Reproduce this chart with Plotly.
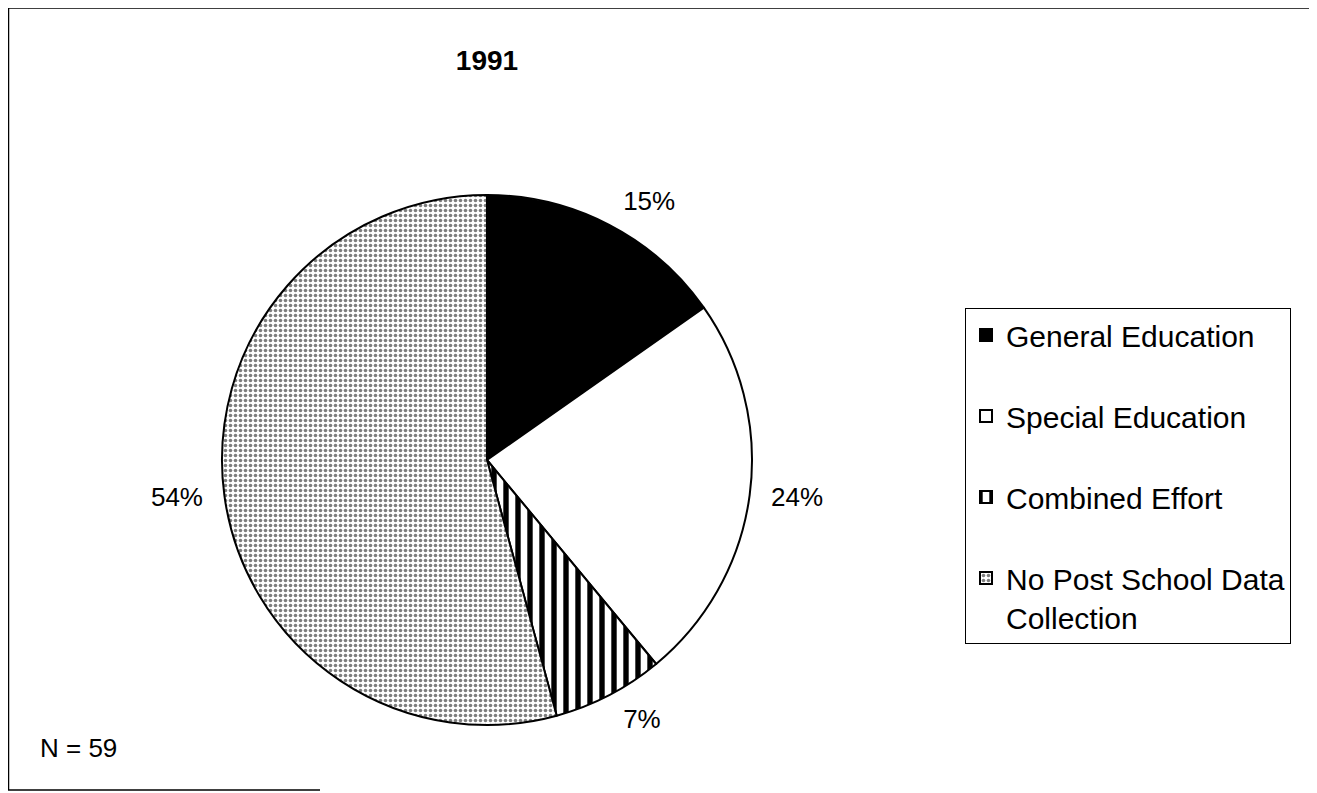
import plotly.graph_objects as go

# Data
categories = ["General Education", "Special Education", "Combined Effort",
              "No Post School Data Collection"]
legend_labels = ["General Education<br> ", "Special Education<br> ",
                 "Combined Effort<br> ", "No Post School Data<br>Collection"]
counts = [9, 14, 4, 32]  # N = 59
title_text = "1991"
n_text = "N = 59"

W, H = 1317, 793
OFF = 8  # page body margin offset
FONT = "Liberation Sans, Arial, sans-serif"


def px(x):
    return (x - OFF) / W


def py(y):
    return 1 - (y - OFF) / H


CX, CY, R = 487, 460, 265      # pie geometry in screen pixels
RL = 279                       # radius used for label placement

slice_colors = ["black", "white", "white", "white"]
pattern = dict(
    shape=["", "", "|", "."],
    fgcolor=["black", "black", "black", "#7d7d7d"],
    bgcolor=["black", "white", "white", "white"],
    size=[8, 8, 12, 5],
    solidity=[0.3, 0.3, 0.45, 0.4],
    fillmode="replace",
)

fig = go.Figure()
# main pie (slices + legend)
fig.add_trace(go.Pie(
    labels=legend_labels,
    values=counts,
    customdata=categories,
    sort=False,
    direction="clockwise",
    rotation=0,
    textinfo="none",
    hovertemplate="%{customdata}: %{value}<extra></extra>",
    marker=dict(colors=slice_colors, line=dict(color="black", width=2),
                pattern=pattern),
    domain=dict(x=[px(CX - R), px(CX + R)], y=[py(CY + R), py(CY - R)]),
))
# transparent companion pie used only to place the percentage labels
fig.add_trace(go.Pie(
    labels=legend_labels,
    values=counts,
    sort=False,
    direction="clockwise",
    rotation=0,
    showlegend=False,
    hoverinfo="skip",
    textposition="outside",
    texttemplate="%{percent:.0%}",
    textfont=dict(family=FONT, size=26, color="black"),
    marker=dict(colors=["rgba(0,0,0,0)"] * 4,
                line=dict(color="rgba(0,0,0,0)", width=0)),
    domain=dict(x=[px(CX - RL), px(CX + RL)], y=[py(CY + RL), py(CY - RL)]),
))

fig.update_layout(
    width=W, height=H,
    margin=dict(l=0, r=0, t=0, b=0),
    paper_bgcolor="white",
    plot_bgcolor="white",
    font=dict(family=FONT, color="black"),
    title=dict(text="<b>" + title_text + "</b>", x=px(487), xanchor="center",
               y=py(60), yanchor="middle",
               font=dict(family=FONT, size=28, color="black")),
    showlegend=True,
    legend=dict(
        x=px(965), xanchor="left",
        y=py(308), yanchor="top",
        bgcolor="white",
        bordercolor="black", borderwidth=1,
        font=dict(family=FONT, size=30, color="black"),
        valign="top",
    ),
    annotations=[dict(
        text=n_text, x=px(38), y=py(748), xref="paper", yref="paper",
        xanchor="left", yanchor="middle", showarrow=False,
        font=dict(family=FONT, size=26, color="black"),
    )],
    shapes=[
        dict(type="line", xref="paper", yref="paper",
             x0=px(8), x1=1.0, y0=py(8), y1=py(8),
             line=dict(color="black", width=1.5)),
        dict(type="line", xref="paper", yref="paper",
             x0=px(8.5), x1=px(8.5), y0=py(8), y1=py(790),
             line=dict(color="black", width=1.5)),
        dict(type="line", xref="paper", yref="paper",
             x0=px(8), x1=px(320), y0=py(790), y1=py(790),
             line=dict(color="black", width=1.5)),
    ],
)

fig.write_html("out.html")
